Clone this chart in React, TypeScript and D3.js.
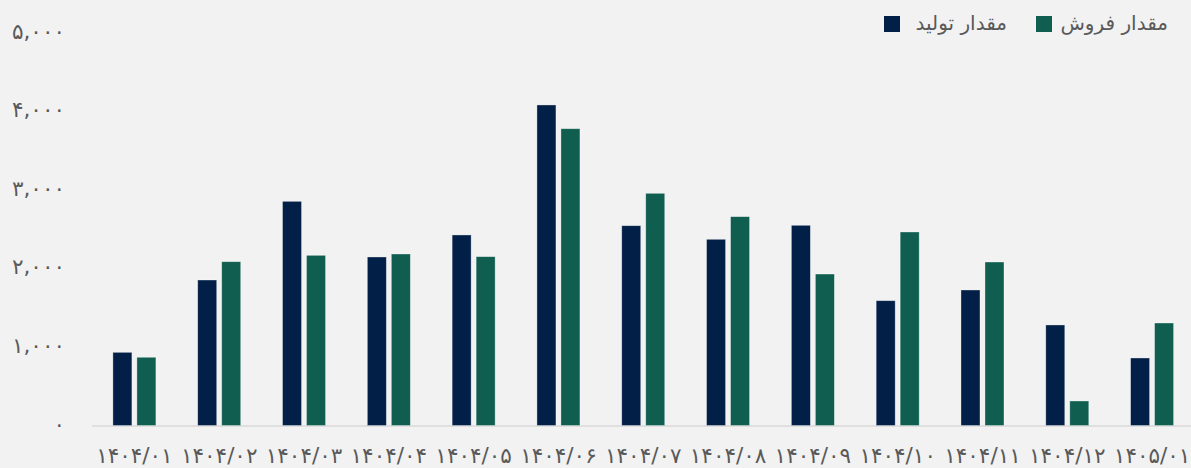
import React from "react";
import * as d3 from "d3";

const categories = ["۱۴۰۴/۰۱","۱۴۰۴/۰۲","۱۴۰۴/۰۳","۱۴۰۴/۰۴","۱۴۰۴/۰۵","۱۴۰۴/۰۶","۱۴۰۴/۰۷","۱۴۰۴/۰۸","۱۴۰۴/۰۹","۱۴۰۴/۱۰","۱۴۰۴/۱۱","۱۴۰۴/۱۲","۱۴۰۵/۰۱"];
const production = [931, 1851, 2852, 2144, 2424, 4078, 2542, 2369, 2547, 1588, 1724, 1279, 859];
const sales = [868, 2084, 2165, 2182, 2148, 3776, 2954, 2657, 1927, 2462, 2080, 312, 1304];
const yTicks = [0, 1000, 2000, 3000, 4000, 5000];
const yTickLabels = ["۰", "۱,۰۰۰", "۲,۰۰۰", "۳,۰۰۰", "۴,۰۰۰", "۵,۰۰۰"];
const seriesNames = ["مقدار تولید", "مقدار فروش"];

const W = 1191, H = 468;
const COLORS = ["#021F47", "#0F5E50"];
const FONT = "'DejaVu Sans', sans-serif";

export default function App() {
  const x = d3.scaleBand<string>().domain(categories).range([92, 1194.5]).padding(0);
  const y = d3.scaleLinear().domain([0, 5000]).range([425.5, 32.5]);
  const bw = x.bandwidth();
  const barW = bw * 0.224;
  const gap = bw * 0.059;
  const series = [production, sales];

  return (
    <svg width={W} height={H} style={{ position: "absolute", left: 0, top: 0, background: "#F2F2F2" }}>
      <rect x={0} y={0} width={W} height={H} fill="#F2F2F2" />
      {yTicks.map((t, i) => (
        <text key={t} x={65} y={y(t) + 6} textAnchor="end" fontFamily={FONT} fontSize={21.5} fill="#595959">
          {yTickLabels[i]}
        </text>
      ))}
      <line x1={92} x2={W} y1={y(0) + 0.5} y2={y(0) + 0.5} stroke="#D9D9D9" strokeWidth={1.5} />
      {categories.map((c, i) => {
        const cx = (x(c) as number) + bw / 2;
        return (
          <g key={c}>
            {series.map((s, k) => {
              const bx = k === 0 ? cx - gap / 2 - barW : cx + gap / 2;
              return (
                <rect key={k} x={bx} y={y(s[i])} width={barW} height={y(0) - y(s[i])}
                  fill={COLORS[k]} stroke="#ffffff" strokeOpacity={0.45} strokeWidth={0.75} />
              );
            })}
            <text x={cx} y={463} textAnchor="middle" fontFamily={FONT} fontSize={21.5} fill="#595959">
              {c}
            </text>
          </g>
        );
      })}
      {/* legend */}
      <rect x={884} y={16} width={16} height={16} fill={COLORS[0]} />
      <text x={1007} y={30} textAnchor="end" fontFamily={FONT} fontSize={20} fill="#595959">{seriesNames[0]}</text>
      <rect x={1036} y={16} width={16} height={16} fill={COLORS[1]} />
      <text x={1168} y={30} textAnchor="end" fontFamily={FONT} fontSize={20} fill="#595959">{seriesNames[1]}</text>
    </svg>
  );
}
